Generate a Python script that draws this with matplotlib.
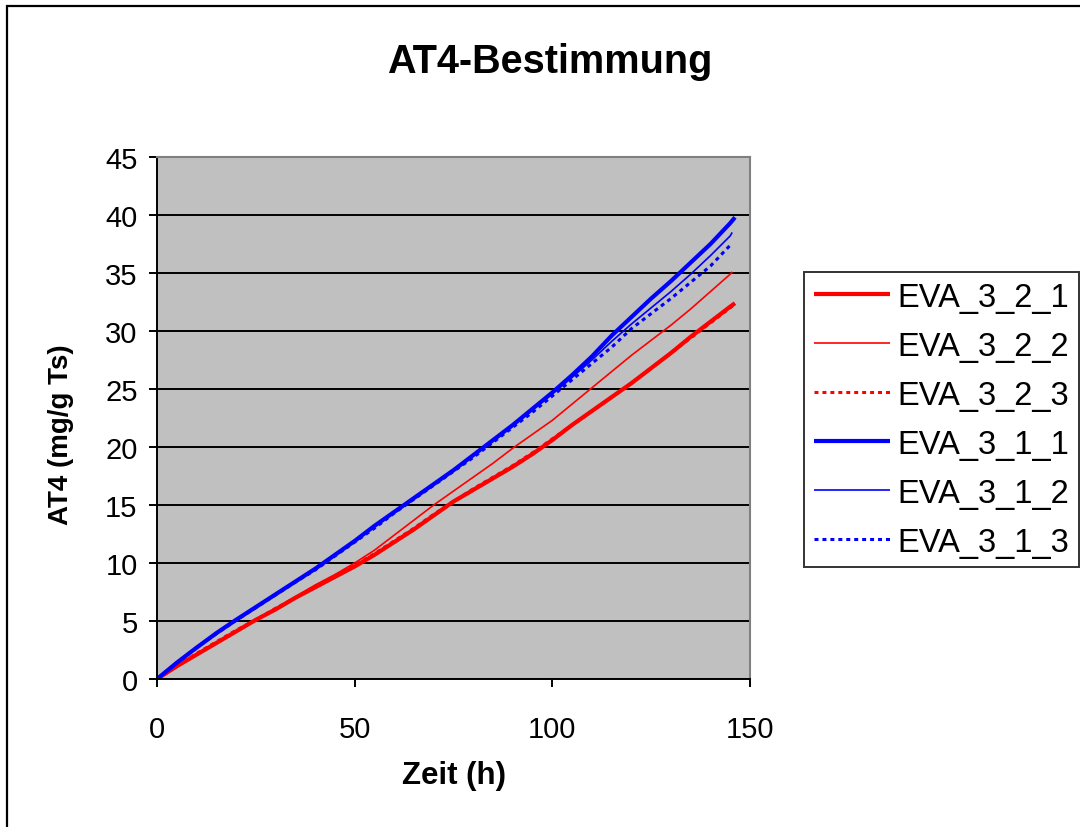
import matplotlib
matplotlib.use("Agg")
import matplotlib.pyplot as plt
from matplotlib.patches import Rectangle

plt.rcParams['font.family'] = ['Liberation Sans', 'DejaVu Sans']

# Zeitpunkte (h) und AT4-Werte (mg/g Ts)
zeit = [0, 5, 10, 15, 20, 25, 30, 35, 40, 45, 50, 55, 60, 65, 70, 75, 80,
        85, 90, 95, 100, 105, 110, 115, 120, 125, 130, 135, 140, 145]

eva_3_2_1 = [0, 1.1, 2.1, 3.1, 4.1, 5.1, 6.0, 7.0, 7.9, 8.8, 9.7, 10.7, 11.8,
             12.9, 14.1, 15.3, 16.3, 17.3, 18.3, 19.4, 20.6, 21.9, 23.1, 24.3,
             25.5, 26.8, 28.1, 29.5, 30.8, 32.1]
eva_3_2_2 = [0, 1.1, 2.1, 3.1, 4.1, 5.1, 6.1, 7.1, 8.1, 9.0, 10.0, 11.1, 12.4,
             13.7, 15.0, 16.2, 17.4, 18.6, 19.9, 21.1, 22.3, 23.7, 25.1, 26.5,
             27.9, 29.2, 30.5, 31.9, 33.4, 34.9]
eva_3_2_3 = [0, 1.1, 2.2, 3.2, 4.2, 5.1, 6.1, 7.0, 8.0, 8.9, 9.8, 10.8, 11.9,
             13.0, 14.2, 15.3, 16.4, 17.4, 18.4, 19.5, 20.7, 21.9, 23.1, 24.3,
             25.5, 26.8, 28.1, 29.4, 30.7, 32.0]
eva_3_1_1 = [0, 1.4, 2.7, 3.95, 5.1, 6.2, 7.3, 8.4, 9.5, 10.7, 11.9, 13.2, 14.4,
             15.6, 16.8, 18.0, 19.3, 20.6, 21.9, 23.3, 24.7, 26.2, 27.8, 29.6,
             31.2, 32.8, 34.3, 35.9, 37.5, 39.3]
eva_3_1_2 = [0, 1.4, 2.7, 3.95, 5.1, 6.2, 7.3, 8.4, 9.5, 10.7, 11.9, 13.1, 14.4,
             15.6, 16.8, 18.0, 19.3, 20.5, 21.8, 23.2, 24.6, 26.0, 27.5, 29.1,
             30.6, 32.0, 33.4, 34.9, 36.5, 38.2]
eva_3_1_3 = [0, 1.4, 2.7, 3.9, 5.05, 6.15, 7.25, 8.35, 9.4, 10.6, 11.8, 13.0,
             14.3, 15.5, 16.7, 17.9, 19.1, 20.4, 21.7, 23.0, 24.4, 25.8, 27.2,
             28.6, 30.2, 31.5, 32.8, 34.2, 35.6, 37.4]

# letzte Messpunkte je Reihe
ende_t = {'EVA_3_2_1': 146.2, 'EVA_3_2_2': 145.5, 'EVA_3_2_3': 146.0,
          'EVA_3_1_1': 146.2, 'EVA_3_1_2': 145.5, 'EVA_3_1_3': 145.2}
ende_w = {'EVA_3_2_1': 32.4, 'EVA_3_2_2': 35.1, 'EVA_3_2_3': 32.3,
          'EVA_3_1_1': 39.8, 'EVA_3_1_2': 38.5, 'EVA_3_1_3': 37.6}

reihen = [
    ('EVA_3_2_1', eva_3_2_1, dict(color='#FF0000', lw=3.0, ls='-')),
    ('EVA_3_2_2', eva_3_2_2, dict(color='#FF0000', lw=1.2, ls='-')),
    ('EVA_3_2_3', eva_3_2_3, dict(color='#FF0000', lw=2.2, ls=(0, (1.3, 1.3)))),
    ('EVA_3_1_1', eva_3_1_1, dict(color='#0000FF', lw=3.0, ls='-')),
    ('EVA_3_1_2', eva_3_1_2, dict(color='#0000FF', lw=1.2, ls='-')),
    ('EVA_3_1_3', eva_3_1_3, dict(color='#0000FF', lw=2.2, ls=(0, (1.3, 1.3)))),
]

fig = plt.figure(figsize=(10.8, 8.28), dpi=100)
ax = fig.add_axes([157 / 1080, 1 - 680 / 828, 593 / 1080, 522 / 828])
ax.set_facecolor('#C0C0C0')

for name, werte, stil in reihen:
    t = zeit + [ende_t[name]]
    w = werte + [ende_w[name]]
    ax.plot(t, w, label=name, solid_capstyle='butt', **stil)

ax.set_xlim(0, 150)
ax.set_ylim(0, 45)
ax.set_xticks([0, 50, 100, 150])
ax.set_yticks(range(0, 46, 5))
ax.yaxis.grid(True, color='black', lw=1.4)
ax.set_axisbelow(True)

for s in ('top', 'right'):
    ax.spines[s].set_color('#808080')
    ax.spines[s].set_linewidth(1.5)
for s in ('left', 'bottom'):
    ax.spines[s].set_color('black')
    ax.spines[s].set_linewidth(1.4)

ax.tick_params(axis='both', direction='out', length=6, width=1.4,
               labelsize=21, color='black')
ax.tick_params(axis='x', pad=20)
ax.tick_params(axis='y', pad=8)

ax.set_xlabel('Zeit (h)', fontsize=22.5, fontweight='bold', labelpad=12)
ax.set_ylabel('AT4 (mg/g Ts)', fontsize=20, fontweight='bold')
ax.yaxis.set_label_coords(-0.14, 0.47)

fig.text(550 / 1080, 1 - 62 / 828, 'AT4-Bestimmung', fontsize=28.5,
         fontweight='bold', ha='center', va='center')

leg = fig.legend(loc='upper left', bbox_to_anchor=(804 / 1080, 1 - 273 / 828),
                 fontsize=23.5, frameon=True, fancybox=False, borderaxespad=0,
                 borderpad=0.3, labelspacing=0.55, handlelength=2.35,
                 handletextpad=0.2)
leg.get_frame().set_edgecolor('black')
leg.get_frame().set_linewidth(1.4)

# Rahmen um das Diagramm
fig.patches.append(Rectangle((7 / 1080, -0.2), 1.2, 1.2 - 7 / 828,
                             transform=fig.transFigure, fill=False,
                             edgecolor='black', lw=1.6))

fig.savefig('out.png', dpi=100)
